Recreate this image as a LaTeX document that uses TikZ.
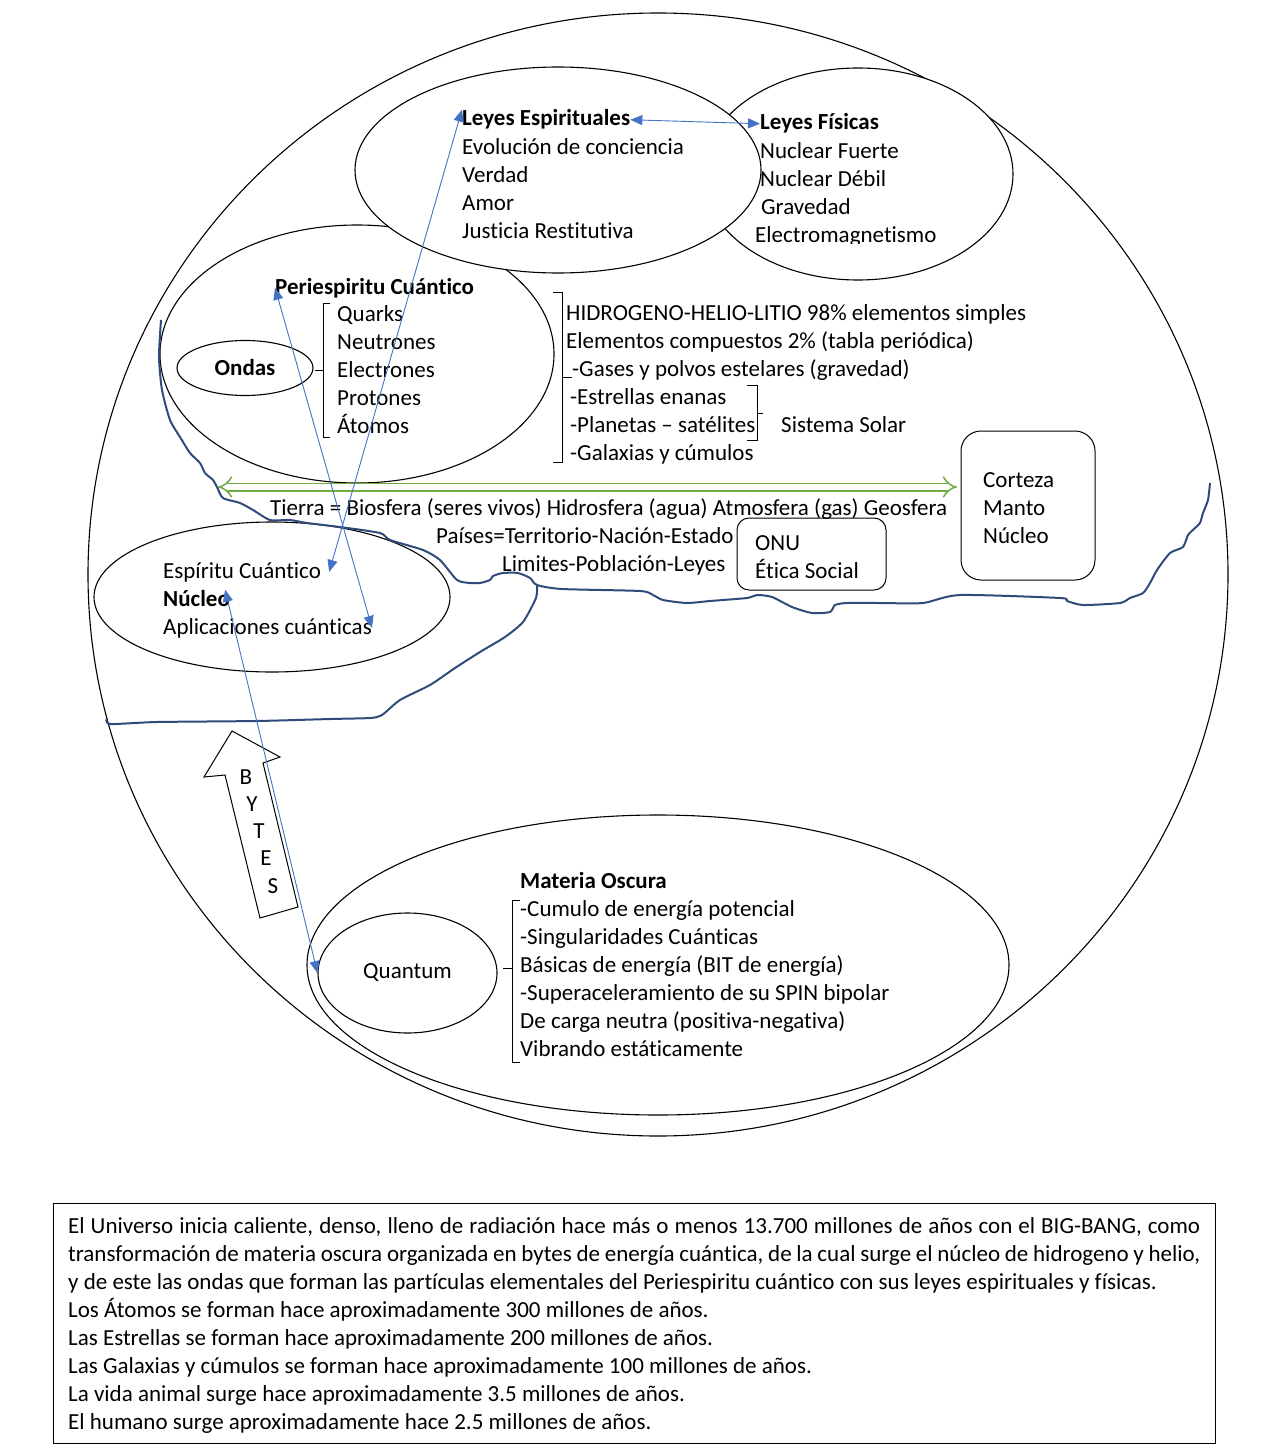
\documentclass[tikz,border=0pt]{standalone}
\usepackage{fontspec}
\setmainfont{Carlito}[Ligatures=NoCommon]
\usetikzlibrary{shapes.geometric,arrows.meta}
\definecolor{linkblue}{HTML}{4472C4}
\definecolor{coast}{HTML}{2F4B7C}
\definecolor{earthgreen}{HTML}{70AD47}

\begin{document}
\begin{tikzpicture}[x=1pt,y=-1pt,
    font=\fontsize{23}{28}\selectfont,
    txt/.style={anchor=base west,inner sep=0pt},
    oval/.style={draw,ellipse,inner sep=0pt,line width=1.1pt},
    link/.style={linkblue,line width=0.9pt,{Triangle[length=12pt,width=10pt]}-{Triangle[length=12pt,width=10pt]}},
    brace/.style={line width=1pt},
    rbox/.style={draw,inner sep=0pt,line width=1pt}]
    \useasboundingbox (0,0) rectangle (1275,1453);

    % ovals
    \node[oval,minimum width=1140pt,minimum height=1123pt] (univ) at (658,574.5) {};
    \node[oval,minimum width=702pt,minimum height=300pt] (oscura) at (658,965) {};
    \node[oval,minimum width=179pt,minimum height=120pt] (quantum) at (407.5,973) {Quantum};
    \node[oval,minimum width=394pt,minimum height=258pt] (periov) at (357,354) {};
    \node[oval,fill=white,minimum width=310pt,minimum height=212pt] (fisov) at (858,174) {};
    \node[oval,fill=white,minimum width=406pt,minimum height=206pt] (espov) at (558,170) {};
    \node[oval,minimum width=356pt,minimum height=150pt] (ecov) at (272,597) {};
    \node[oval,minimum width=136pt,minimum height=55pt] (ondas) at (245,368) {\textbf{Ondas}};

    % leyes
    \node[txt] (espT) at (462,126) {\textbf{Leyes Espirituales}};
    \foreach \t [count=\i] in {Evolución de conciencia,Verdad,Amor,Justicia Restitutiva}
        \node[txt] (esp\i) at (462,126+28*\i) {\t};
    \node[txt] (fisT) at (760,130) {\textbf{Leyes Físicas}};
    \begin{scope}
        \clip (700,60) rectangle (1020,243);
        \foreach \t/\x [count=\i] in {Nuclear Fuerte/760,Nuclear Débil/760,Gravedad/761,Electromagnetismo/755}
            \node[txt] (fis\i) at (\x,130+28*\i) {\t};
    \end{scope}

    % periespiritu
    \node[txt] (peri) at (275,294) {\textbf{Periespiritu Cuántico}};
    \foreach \t [count=\i] in {Quarks,Neutrones,Electrones,Protones,Átomos}
        \node[txt] (part\i) at (337,293+28*\i) {\t};
    \draw[brace] (330,303) -- (323,303) -- (323,437) -- (330,437);
    \draw[brace] (323,370) -- (315,370);

    % elementos
    \foreach \t/\x [count=\i] in {HIDROGENO-HELIO-LITIO 98\% elementos simples/566,Elementos compuestos 2\% (tabla periódica)/566,-Gases y polvos estelares (gravedad)/572,-Estrellas enanas/570,-Planetas – satélites/570,-Galaxias y cúmulos/570}
        \node[txt] (elem\i) at (\x,292+28*\i) {\t};
    \draw[brace] (553,292) -- (562,292) -- (562,462) -- (553,462);
    \draw[brace] (562,377) -- (572,377);
    \draw[brace] (747,385) -- (757,385) -- (757,440) -- (747,440);
    \draw[brace] (757,413) -- (763,413);
    \node[txt] (solar) at (781,432) {Sistema Solar};

    % tierra
    \node[txt] (tierra) at (270,515) {Tierra = Biosfera (seres vivos) Hidrosfera (agua) Atmosfera (gas) Geosfera};
    \node[txt] (paises) at (436,543) {Países=Territorio-Nación-Estado};
    \node[txt] (limites) at (502,571) {Limites-Población-Leyes};
    \node[rbox,rounded corners=12pt,minimum width=149pt,minimum height=72pt] (onu) at (811.5,554) {};
    \node[txt] (onu1) at (755,550) {ONU};
    \node[txt] (onu2) at (755,578) {Ética Social};
    \node[rbox,rounded corners=20pt,minimum width=134pt,minimum height=149pt] (capas) at (1028,505.5) {};
    \foreach \t [count=\i] in {Corteza,Manto,Núcleo}
        \node[txt] (capa\i) at (983,459+28*\i) {\t};

    \coordinate (gl) at (218,487);
    \coordinate (gr) at (957,487);
    \draw[earthgreen,double=white,double distance=6pt,line width=1.5pt,{Implies}-{Implies}] (gl) -- (gr);

    % espiritu cuantico
    \node[txt] (ec1) at (163,578) {Espíritu Cuántico};
    \node[txt] (nuc) at (163,606) {\textbf{Núcleo}};
    \node[txt] (ec3) at (163,634) {Aplicaciones cuánticas};

    % coast
    \draw[coast,line width=2pt,line join=round] plot[smooth,tension=0.4] coordinates {(161,320) (159,357) (162,390) (170,420) (180,437) (190,453) (200,463) (205,473) (213,480) (217,487) (223,498) (240,503) (253,510) (270,520) (290,520) (307,523) (340,527) (380,533) (390,540) (423,550) (440,560) (457,580) (470,583) (480,583) (490,580) (493,576) (503,573) (518,573) (530,578) (537,585) (562,589) (640,591) (653,595) (663,600) (687,603) (710,601) (747,598) (757,595) (772,597) (792,607) (812,613) (830,612) (835,605) (847,603) (880,603) (923,603) (960,595) (1060,598) (1067,601) (1083,605) (1120,603) (1130,598) (1143,593) (1150,583) (1157,570) (1170,553) (1183,547) (1188,535) (1195,528) (1200,523) (1203,513) (1208,500) (1210,483)};
    \draw[coast,line width=2pt,line join=round] plot[smooth,tension=0.4] coordinates {(537,585) (536,598) (523,622) (505,637) (480,652) (455,668) (430,685) (400,700) (382,715) (370,718) (330,719) (257,721) (157,722) (110,724) (107,718)};

    % materia oscura
    \node[txt] (mat) at (520,888) {\textbf{Materia Oscura}};
    \foreach \t [count=\i] in {-Cumulo de energía potencial,-Singularidades Cuánticas,Básicas de energía (BIT de energía),-Superaceleramiento de su SPIN bipolar,De carga neutra (positiva-negativa),Vibrando estáticamente}
        \node[txt] (mat\i) at (520,888+28*\i) {\t};
    \draw[brace] (520,900) -- (512,900) -- (512,1062) -- (520,1062);
    \draw[brace] (512,968) -- (503,968);

    % bytes
    \draw[line width=1pt,fill=white] (232,731) -- (280,757) -- (263,763) -- (298,907) -- (260,918) -- (225,775) -- (204,777) -- cycle;
    \foreach \l/\x/\y [count=\i] in {B/246/777,Y/252/804,T/259/831,E/266/858,S/273/886}
        \node[inner sep=0pt] (byte\i) at (\x,\y) {\l};

    % links
    \draw[link] (espT.north west) -- ([xshift=8pt]ec1.east);
    \draw[link] (peri.west) -- (ec3.east);
    \draw[link] (espT.east) -- (fisT.west);
    \draw[link] ([xshift=-5pt]nuc.north east) -- (quantum.west);

    % nota
    \node[rbox,minimum width=1162pt,minimum height=240pt] (nota) at (634,1323) {};
    \node[txt] (nota1) at (68,1233) {\makebox[1132pt][s]{El Universo inicia caliente, denso, lleno de radiación hace más o menos 13.700 millones de años con el BIG-BANG, como}};
    \node[txt] (nota2) at (68,1261) {\makebox[1132pt][s]{transformación de materia oscura organizada en bytes de energía cuántica, de la cual surge el núcleo de hidrogeno y helio,}};
    \foreach \t [count=\i from 3] in {{y de este las ondas que forman las partículas elementales del Periespiritu cuántico con sus leyes espirituales y físicas.},Los Átomos se forman hace aproximadamente 300 millones de años.,Las Estrellas se forman hace aproximadamente 200 millones de años.,Las Galaxias y cúmulos se forman hace aproximadamente 100 millones de años.,La vida animal surge hace aproximadamente 3.5 millones de años.,El humano surge aproximadamente hace 2.5 millones de años.}
        \node[txt] (nota\i) at (68,1205+28*\i) {\t};
\end{tikzpicture}
\end{document}
